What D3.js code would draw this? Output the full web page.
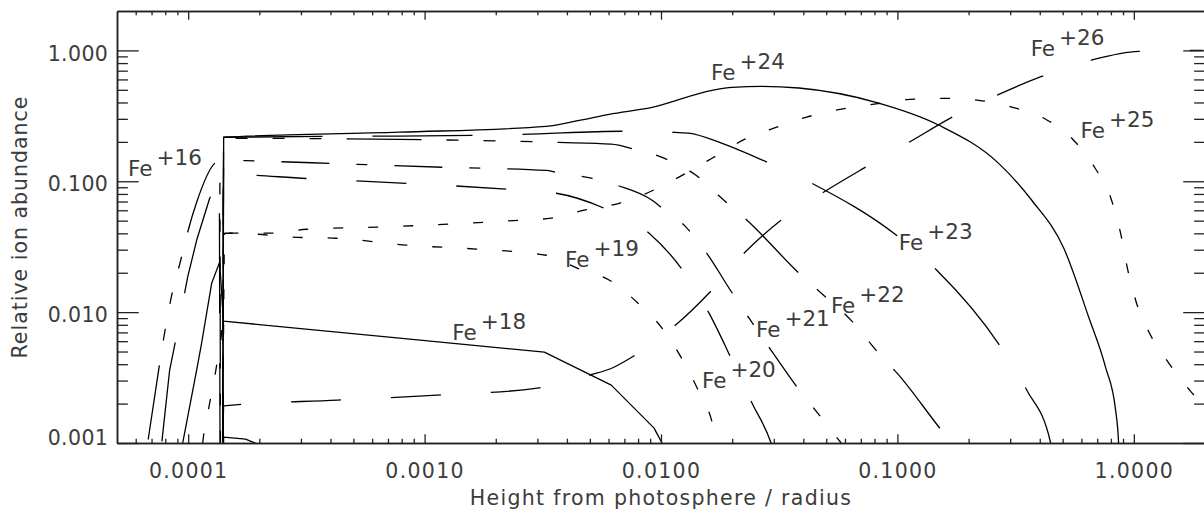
<!DOCTYPE html>
<html>
<head>
<meta charset="utf-8">
<script src="https://cdn.jsdelivr.net/npm/d3@7"></script>
<style>
  body { margin: 0; background: #fff; }
  svg { display: block; }
  text { font-family: "DejaVu Sans", sans-serif; fill: #3c3c3c; }
  .axis path, .axis line { stroke: #222; }
  .axis path { stroke-width: 1.5; }
  .axis line { stroke-width: 1.3; }
  .ion { fill: none; stroke: #000; stroke-width: 1.3; stroke-linejoin: round; }
</style>
</head>
<body>
<svg id="chart" width="1204" height="510"></svg>
<script>
// Ion fractions of iron vs. height: [height/radius, abundance]
const fe16 = [[6.55e-5,7e-4],[6.74e-5,0.001],[7.50e-5,0.00361],[7.96e-5,0.00704],[8.52e-5,0.0135],[9.30e-5,0.0249],[9.95e-5,0.0408],[1.086e-4,0.0691],[1.294e-4,0.137],[1.33e-4,0.142],[1.36e-4,0.12],[1.37e-4,5e-4]];
const fe17 = [[7.57e-5,7e-4],[7.73e-5,0.001],[8.35e-5,0.00361],[8.77e-5,0.0056],[9.66e-5,0.0140],[9.95e-5,0.0185],[1.086e-4,0.0354],[1.233e-4,0.0742],[1.33e-4,0.095],[1.355e-4,0.10],[1.365e-4,5e-4],[1.40e-4,5e-4],[1.413e-4,0.00111],[1.75e-4,0.00107],[2.2e-4,9e-4]];
const fe18 = [[9.14e-5,7e-4],[9.48e-5,0.001],[1.086e-4,0.00361],[1.140e-4,0.0058],[1.257e-4,0.0166],[1.359e-4,0.0241],[1.41e-4,0.00854],[7.83e-4,0.00633],[3.21e-3,0.00495],[6.16e-3,0.00277],[9.35e-3,0.00130],[0.0101,0.001],[0.0106,7e-4]];
const fe19 = [[1.13e-4,7e-4],[1.152e-4,0.001],[1.233e-4,0.00202],[1.32e-4,0.00394],[1.386e-4,0.00729],[1.427e-4,0.0401],[1.95e-4,0.0394],[2.76e-4,0.0374],[4.24e-4,0.0367],[8.38e-4,0.0325],[1.66e-3,0.0303],[3.27e-3,0.0272],[4.42e-3,0.0217],[6.16e-3,0.0172],[8.0e-3,0.0117],[0.0101,0.00755],[0.01228,0.00438],[0.01435,0.00254],[0.01644,0.00145],[0.01726,0.001],[0.0176,7e-4]];
const fe20 = [[1.40e-4,5e-4],[1.413e-4,0.113],[3.17e-4,0.105],[8.38e-4,0.0965],[2.22e-3,0.0869],[3.61e-3,0.0810],[5.75e-3,0.0622],[8.91e-3,0.0401],[0.01216,0.0217],[0.01597,0.00983],[0.01978,0.00446],[0.02426,0.00202],[0.0292,0.001],[0.031,7e-4]];
const fe21 = [[1.40e-4,5e-4],[1.413e-4,0.145],[1.91e-4,0.143],[3.96e-4,0.137],[1.19e-3,0.128],[1.72e-3,0.126],[3.27e-3,0.121],[3.61e-3,0.117],[5.12e-3,0.105],[6.52e-3,0.0932],[9.17e-3,0.0716],[0.0100,0.0633],[0.01264,0.0454],[0.0155,0.0287],[0.0200,0.0140],[0.02357,0.0090],[0.0286,0.00541],[0.03758,0.00268],[0.04566,0.00172],[0.05654,0.00105],[0.0577,0.001],[0.06,7e-4]];
const fe22 = [[1.40e-4,5e-4],[1.413e-4,0.213],[7.83e-4,0.209],[3.71e-3,0.198],[6.16e-3,0.192],[7.70e-3,0.176],[0.0103,0.150],[0.01407,0.111],[0.01866,0.0704],[0.02311,0.0504],[0.03907,0.0192],[0.0498,0.0130],[0.0648,0.00839],[0.0818,0.00504],[0.1014,0.0033],[0.157,0.00119],[0.170,0.001],[0.176,7e-4]];
const fe23 = [[1.40e-4,5e-4],[1.413e-4,0.217],[6.02e-4,0.221],[1.59e-3,0.224],[2.59e-3,0.228],[6.85e-3,0.241],[0.01114,0.237],[0.0131,0.233],[0.01812,0.195],[0.02808,0.140],[0.04349,0.0965],[0.1014,0.0374],[0.1467,0.0209],[0.2735,0.00541],[0.3522,0.00254],[0.4447,0.001],[0.46,7e-4]];
const fe24 = [[1.40e-4,5e-4],[1.413e-4,0.217],[7.83e-4,0.237],[3.27e-3,0.263],[4.51e-3,0.292],[6.04e-3,0.325],[9.16e-3,0.367],[0.01644,0.495],[0.0200,0.522],[0.0267,0.531],[0.0383,0.516],[0.0811,0.401],[0.150,0.268],[0.268,0.137],[0.370,0.0716],[0.505,0.0309],[0.644,0.00917],[0.759,0.0038],[0.837,0.00179],[0.862,0.001],[0.87,5e-4]];
const fe25 = [[1.40e-4,5e-4],[1.427e-4,0.0401],[2.21e-4,0.0401],[3.17e-4,0.0430],[6.26e-4,0.0446],[1.27e-3,0.0470],[2.52e-3,0.0504],[3.43e-3,0.0522],[4.73e-3,0.0601],[6.65e-3,0.0679],[9.08e-3,0.0839],[0.01228,0.111],[0.01644,0.150],[0.02223,0.206],[0.03064,0.258],[0.0410,0.308],[0.0571,0.354],[0.0811,0.390],[0.1128,0.423],[0.1586,0.430],[0.2208,0.415],[0.3072,0.367],[0.4236,0.298],[0.5562,0.206],[0.682,0.128],[0.805,0.0716],[0.879,0.0401],[0.941,0.0213],[1.027,0.0117],[1.1765,0.00667],[1.415,0.00401],[1.736,0.00249],[1.97,0.00195],[2.2,0.0016]];
const fe26 = [[1.40e-4,5e-4],[1.413e-4,0.00192],[4.28e-4,0.00213],[1.133e-3,0.00232],[3.0e-3,0.00263],[4.97e-3,0.0033],[6.22e-3,0.00374],[7.55e-3,0.00454],[0.01114,0.00755],[0.01597,0.0140],[0.0220,0.0272],[0.03218,0.0504],[0.0479,0.081],[0.0721,0.126],[0.1117,0.198],[0.1698,0.308],[0.263,0.453],[0.4075,0.633],[0.656,0.839],[1.047,0.983],[1.97,1.0]];

// IDL linestyle cycle per ion
const ionSeries = [fe16, fe17, fe18, fe19, fe20, fe21, fe22, fe23, fe24, fe25, fe26];
const ionStyles = ["dash3dot","longdash","solid","dotted","dashed","dashdot","dash3dot","longdash","solid","dotted","dashed"];
const ionCurves = ["smooth","linear","linear","smooth","smooth","smooth","smooth","smooth","smooth","smooth","smooth"];
// a point on each curve where a dash begins in the original plot
const dashStartH = [9.95e-5, 9.66e-5, null, 2.76e-4, 1.95e-4, 2.48e-4, 4.67e-4, 6.02e-4, null, 0.0391, 0.656];
const dashStartA = [0.0408, 0.0140, null, 0.0374, 0.111, 0.140, 0.209, 0.221, null, 0.31, 0.839];

// curve labels
const labelIons = ["+16","+18","+19","+20","+21","+22","+23","+24","+25","+26"];
const labelHeights = [5.57e-5, 1.31e-3, 3.93e-3, 0.01491, 0.02522, 0.05232, 0.1014, 0.01628, 0.5955, 0.3661];
const labelAbund = [0.1092, 0.00611, 0.02206, 0.00263, 0.00645, 0.00983, 0.02974, 0.5902, 0.2129, 0.9000];

const xTicks = [0.0001, 0.001, 0.01, 0.1, 1];
const yTicks = [0.001, 0.01, 0.1, 1];

const dashes = {
    solid: null,
    dotted: [10, 25],
    dashed: [50, 50],
    dashdot: [48, 27, 11, 27],
    dash3dot: [75, 25, 12, 25, 12, 25, 12, 25],
    longdash: [100, 50]
};

const svg = d3.select("#chart");
const m = {left: 117, top: 11, right: 1205, bottom: 443};
const x = d3.scaleLog().domain([5e-5, 2]).range([m.left, m.right]);
const y = d3.scaleLog().domain([0.001, 2]).range([m.bottom, m.top]);

function minorTicks(scale) {
    const [lo, hi] = scale.domain();
    const out = [];
    for (let e = Math.floor(Math.log10(lo)); e <= Math.ceil(Math.log10(hi)); e++) {
        for (let k = 2; k <= 9; k++) {
            const v = k * Math.pow(10, e);
            if (v > lo * 1.001 && v < hi * 0.999) out.push(v);
        }
    }
    return out;
}

// length along a path to the point nearest (px, py)
function lengthAt(node, px, py) {
    const total = node.getTotalLength();
    let best = 0, bd = Infinity;
    for (let s = 0; s <= total; s += 1) {
        const p = node.getPointAtLength(s);
        const d = (p.x - px) ** 2 + (p.y - py) ** 2;
        if (d < bd) { bd = d; best = s; }
    }
    return best;
}

// plot clip
svg.append("clipPath").attr("id", "plotclip")
    .append("rect").attr("x", m.left).attr("y", m.top)
    .attr("width", m.right - m.left).attr("height", m.bottom - m.top);

const gLines = svg.append("g").attr("clip-path", "url(#plotclip)");
ionSeries.forEach((pts, i) => {
    const line = d3.line()
        .x(d => x(d[0]))
        .y(d => y(d[1]))
        .curve(ionCurves[i] === "linear" ? d3.curveLinear : d3.curveMonotoneX);
    const path = gLines.append("path").attr("class", "ion").attr("d", line(pts));
    const dash = dashes[ionStyles[i]];
    if (dash) {
        path.attr("stroke-dasharray", dash.join(","));
        if (dashStartH[i] != null) {
            const period = d3.sum(dash);
            const L = lengthAt(path.node(), x(dashStartH[i]), y(dashStartA[i]));
            path.attr("stroke-dashoffset", period - (L % period));
        }
    }
});

// axes, IDL style ticks pointing inward
const xLen = 0.02 * (m.bottom - m.top);
const yLen = 0.02 * (m.right - m.left);

const gx = svg.append("g").attr("class", "axis").attr("transform", `translate(0,${m.bottom})`);
gx.call(d3.axisBottom(x).tickValues(xTicks).tickFormat(d3.format(".4f")).tickSize(-xLen).tickSizeOuter(0).tickPadding(20));
gx.selectAll("text").style("font-size", "20.5px").style("letter-spacing", "1.3px");
svg.append("g").attr("class", "axis").attr("transform", `translate(0,${m.bottom})`)
    .call(d3.axisBottom(x).tickValues(minorTicks(x)).tickFormat("").tickSize(-xLen / 2).tickSizeOuter(0));

svg.append("g").attr("class", "axis").attr("transform", `translate(0,${m.top})`)
    .call(d3.axisTop(x).tickValues(xTicks).tickFormat("").tickSize(-xLen).tickSizeOuter(0));
svg.append("g").attr("class", "axis").attr("transform", `translate(0,${m.top})`)
    .call(d3.axisTop(x).tickValues(minorTicks(x)).tickFormat("").tickSize(-xLen / 2).tickSizeOuter(0));

const gy = svg.append("g").attr("class", "axis").attr("transform", `translate(${m.left},0)`);
gy.call(d3.axisLeft(y).tickValues(yTicks).tickFormat(d3.format(".3f")).tickSize(-yLen).tickSizeOuter(0).tickPadding(8.7));
gy.selectAll("text").style("font-size", "20.5px").style("letter-spacing", "0.4px")
    .attr("dy", d => d === yTicks[0] ? "0.05em" : "0.47em");
svg.append("g").attr("class", "axis").attr("transform", `translate(${m.left},0)`)
    .call(d3.axisLeft(y).tickValues(minorTicks(y)).tickFormat("").tickSize(-yLen / 2).tickSizeOuter(0));

svg.append("g").attr("class", "axis").attr("transform", `translate(${m.right},0)`)
    .call(d3.axisRight(y).tickValues(yTicks).tickFormat("").tickSize(-yLen).tickSizeOuter(0));
svg.append("g").attr("class", "axis").attr("transform", `translate(${m.right},0)`)
    .call(d3.axisRight(y).tickValues(minorTicks(y)).tickFormat("").tickSize(-yLen / 2).tickSizeOuter(0));

// axis titles
svg.append("text")
    .attr("x", (m.left + m.right) / 2).attr("y", 505)
    .attr("text-anchor", "middle").style("font-size", "20.5px").style("letter-spacing", "1.3px")
    .text("Height from photosphere / radius");

svg.append("text")
    .attr("transform", `translate(27,${(m.top + m.bottom) / 2}) rotate(-90)`)
    .attr("text-anchor", "middle").style("font-size", "20.5px").style("letter-spacing", "1px")
    .text("Relative ion abundance");

// ion labels with superscript charge
const gl = svg.append("g");
labelIons.forEach((s, i) => {
    const t = gl.append("text")
        .attr("x", x(labelHeights[i]))
        .attr("y", y(labelAbund[i]))
        .style("font-size", "21.5px");
    t.append("tspan").text("Fe");
    t.append("tspan").attr("dx", 4).attr("dy", -11.5).text(s);
});
</script>
</body>
</html>
